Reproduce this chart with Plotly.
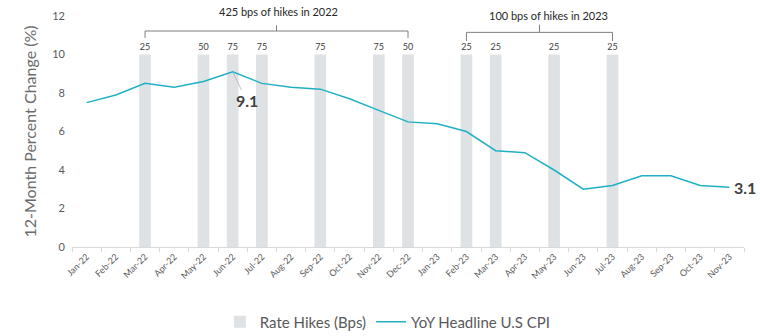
import plotly.graph_objects as go

months = ["Jan-22", "Feb-22", "Mar-22", "Apr-22", "May-22", "Jun-22", "Jul-22", "Aug-22",
          "Sep-22", "Oct-22", "Nov-22", "Dec-22", "Jan-23", "Feb-23", "Mar-23", "Apr-23",
          "May-23", "Jun-23", "Jul-23", "Aug-23", "Sep-23", "Oct-23", "Nov-23"]
cpi_yoy = [7.5, 7.9, 8.5, 8.3, 8.6, 9.1, 8.5, 8.3, 8.2, 7.7, 7.1, 6.5, 6.4, 6.0, 5.0, 4.9,
           4.0, 3.0, 3.2, 3.7, 3.7, 3.2, 3.1]
hike_months = ["Mar-22", "May-22", "Jun-22", "Jul-22", "Sep-22", "Nov-22", "Dec-22",
               "Feb-23", "Mar-23", "May-23", "Jul-23"]
hike_bps = [25, 50, 75, 75, 75, 75, 50, 25, 25, 25, 25]
bar_height = [10] * len(hike_months)

TEXT = "#595959"
fig = go.Figure()
fig.add_trace(go.Bar(
    x=hike_months, y=bar_height, name="Rate Hikes (Bps)",
    marker=dict(color="#DEE2E4", line=dict(width=0)), width=0.4,
    text=[str(v) for v in hike_bps], textposition="outside",
    textfont=dict(size=9, color="#404040"), cliponaxis=False,
))
fig.add_trace(go.Scatter(
    x=months, y=cpi_yoy, mode="lines", name="YoY Headline U.S CPI",
    line=dict(color="#1FB0C6", width=1.5),
))

# bracket groups over the hike bars
def bracket(i0, i1, y=11.22, drop=0.36, rise=0.3):
    c = (i0 + i1) / 2
    path = f"M {i0},{y - drop} L {i0},{y} L {i1},{y} L {i1},{y - drop} M {c},{y} L {c},{y + rise}"
    fig.add_shape(type="path", path=path, xref="x", yref="y",
                  line=dict(color="#7f7f7f", width=1))
    return c

c22 = bracket(months.index("Mar-22"), months.index("Dec-22"))
c23 = bracket(months.index("Feb-23"), months.index("Jul-23"), y=11.15, drop=0.45, rise=0.4)
fig.add_annotation(x=c22, y=1.018, yref="paper", yanchor="middle", text="425 bps of hikes in 2022",
                   showarrow=False, xshift=2, font=dict(size=11, color="#262626"))
fig.add_annotation(x=c23, y=1.004, yref="paper", yanchor="middle", text="100 bps of hikes in 2023",
                   showarrow=False, xshift=9, font=dict(size=11, color="#262626"))

peak_i = cpi_yoy.index(max(cpi_yoy))
fig.add_annotation(x=months[peak_i], y=cpi_yoy[peak_i], text=f"<b>{cpi_yoy[peak_i]}</b>",
                   showarrow=True, arrowhead=0, arrowwidth=0.8, arrowcolor="#b0b0b0",
                   ax=14, ay=29, standoff=0, font=dict(size=16, color="#404040"))
fig.add_annotation(x=months[-1], y=cpi_yoy[-1], text=f"<b>{cpi_yoy[-1]}</b>", showarrow=False,
                   xanchor="left", xshift=3, font=dict(size=16, color="#404040"))

fig.update_layout(
    width=760, height=336, margin=dict(l=72, r=16, t=16, b=89, autoexpand=False),
    paper_bgcolor="white", plot_bgcolor="white",
    font=dict(family="Lato, Open Sans, sans-serif", color=TEXT),
    showlegend=True, bargap=0.6,
    legend=dict(orientation="h", x=0.47, xanchor="center", y=-0.325, yanchor="middle",
                font=dict(size=15, color=TEXT), itemwidth=30),
)
fig.update_xaxes(categoryorder="array", categoryarray=months, type="category",
                 range=[-0.5, len(months) - 0.5], automargin=False,
                 showline=True, linecolor="#D9D9D9", linewidth=1,
                 ticks="outside", tickson="boundaries", ticklen=4, tickcolor="#D9D9D9",
                 tickangle=-45, tickfont=dict(size=9, color=TEXT), showgrid=False)
fig.update_yaxes(range=[0, 12], dtick=2, showgrid=False, zeroline=False, showline=False,
                 automargin=False,
                 tickfont=dict(size=11, color=TEXT), ticklabelstandoff=6,
                 title=dict(text="12-Month Percent Change (%)", font=dict(size=16, color="#6b6b6b"),
                            standoff=11))

fig.write_html("out.html")
